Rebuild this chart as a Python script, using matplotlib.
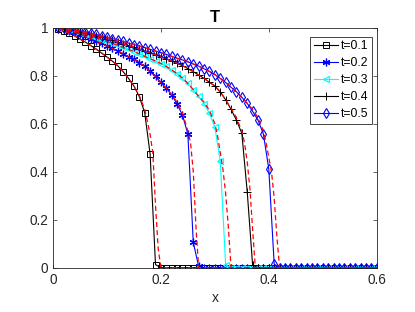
import numpy as np
import matplotlib
matplotlib.use('Agg')
import matplotlib.pyplot as plt

# grid x = 0.01 ... 0.6
x = np.linspace(0.01, 0.6, 60)
labels = ['t=0.1', 't=0.2', 't=0.3', 't=0.4', 't=0.5']

# numerical solution (zeros behind the front)
T1 = [0.996, 0.988, 0.977, 0.966, 0.953, 0.940, 0.926, 0.911, 0.895, 0.878,
      0.861, 0.842, 0.817, 0.789, 0.757, 0.713, 0.646, 0.474, 0.013] + [0.0] * 41
T2 = [0.998, 0.993, 0.988, 0.981, 0.973, 0.964, 0.955, 0.945, 0.935, 0.925,
      0.914, 0.903, 0.892, 0.880, 0.868, 0.855, 0.840, 0.818, 0.797, 0.772,
      0.748, 0.721, 0.682, 0.636, 0.557, 0.106, 0.005] + [0.0] * 33
T3 = [0.998, 0.996, 0.993, 0.986, 0.980, 0.973, 0.966, 0.959, 0.951, 0.943,
      0.935, 0.927, 0.918, 0.910, 0.901, 0.891, 0.881, 0.871, 0.861, 0.851,
      0.839, 0.824, 0.809, 0.790, 0.768, 0.742, 0.714, 0.684, 0.643, 0.585,
      0.445, 0.012] + [0.0] * 28
T4 = [0.998, 0.995, 0.992, 0.989, 0.984, 0.979, 0.973, 0.967, 0.961, 0.954,
      0.947, 0.940, 0.933, 0.926, 0.918, 0.911, 0.903, 0.895, 0.887, 0.878,
      0.870, 0.861, 0.852, 0.842, 0.830, 0.817, 0.803, 0.789, 0.773, 0.757,
      0.733, 0.700, 0.660, 0.615, 0.560, 0.317, 0.011] + [0.0] * 23
T5 = [0.999, 0.997, 0.994, 0.991, 0.988, 0.983, 0.978, 0.972, 0.967, 0.961,
      0.955, 0.949, 0.943, 0.936, 0.930, 0.924, 0.917, 0.910, 0.903, 0.896,
      0.889, 0.881, 0.873, 0.866, 0.858, 0.849, 0.840, 0.829, 0.818, 0.805,
      0.789, 0.772, 0.752, 0.733, 0.710, 0.685, 0.652, 0.615, 0.557, 0.411,
      0.015] + [0.0] * 19

# exact solution near the front (same as numerical further left)
ex1_x = [0.16, 0.17, 0.175, 0.18, 0.185, 0.19, 0.195, 0.20]
ex1_T = [0.718, 0.66, 0.61, 0.555, 0.48, 0.26, 0.08, 0.0]
ex2_x = [0.23, 0.24, 0.25, 0.255, 0.26, 0.265, 0.27]
ex2_T = [0.69, 0.645, 0.57, 0.52, 0.40, 0.17, 0.0]
ex3_x = [0.28, 0.29, 0.30, 0.305, 0.31, 0.315, 0.32, 0.325, 0.33]
ex3_T = [0.69, 0.655, 0.60, 0.55, 0.48, 0.41, 0.31, 0.17, 0.0]
ex4_x = [0.33, 0.34, 0.35, 0.355, 0.36, 0.365, 0.37, 0.375]
ex4_T = [0.665, 0.625, 0.57, 0.52, 0.44, 0.33, 0.16, 0.0]
ex5_x = [0.37, 0.38, 0.39, 0.395, 0.40, 0.405, 0.41, 0.415, 0.42]
ex5_T = [0.66, 0.625, 0.57, 0.52, 0.46, 0.40, 0.29, 0.13, 0.0]

plt.rcParams['font.family'] = ['Liberation Sans', 'DejaVu Sans']

fig = plt.figure(figsize=(4.15, 3.12), dpi=100)
ax = fig.add_axes([0.1277, 0.142, 0.78, 0.769])

styles = [
    dict(color='k', marker='s', ms=4, mfc='none', mew=0.7),
    dict(color='b', marker=(6, 2, 0), ms=5.5, mew=0.9),
    dict(color='#00ffff', marker='<', ms=5, mfc='none', mew=0.9),
    dict(color='k', marker='+', ms=5.5, mew=0.7),
    dict(color='b', marker='d', ms=5, mfc='none', mew=0.8),
]
num = [T1, T2, T3, T4, T5]
for T, st, lab in zip(num, styles, labels):
    ax.plot(x, T, lw=0.8, label=lab, **st)

exact = [(ex1_x, ex1_T), (ex2_x, ex2_T), (ex3_x, ex3_T), (ex4_x, ex4_T), (ex5_x, ex5_T)]
for T, (fx, fT) in zip(num, exact):
    T = np.array(T)
    left = x < fx[0] - 1e-9
    right = x > fx[-1] + 1e-9
    xe = np.concatenate([x[left], fx, x[right]])
    Te = np.concatenate([T[left], fT, np.zeros(right.sum())])
    ax.plot(xe, Te, 'r--', lw=0.9, dashes=(4, 2.5))

ax.set_xlim(0, 0.6)
ax.set_ylim(0, 1)
ax.set_xticks([0, 0.2, 0.4, 0.6])
ax.set_xticklabels(['0', '0.2', '0.4', '0.6'])
ax.set_yticks([0, 0.2, 0.4, 0.6, 0.8, 1])
ax.set_yticklabels(['0', '0.2', '0.4', '0.6', '0.8', '1'])
gray = '#262626'
for sp in ax.spines.values():
    sp.set_color(gray)
    sp.set_linewidth(0.6)
ax.tick_params(direction='in', length=3, width=0.5, colors=gray, labelsize=9.8,
               top=True, right=True, pad=3.5)
ax.set_xlabel('x', fontsize=10, color=gray, labelpad=3)
ax.set_title('T', fontsize=12, fontweight='bold', pad=4)

leg = ax.legend(loc='upper right', bbox_to_anchor=(0.985, 0.9625), fontsize=8.8,
                frameon=True, fancybox=False, framealpha=1, edgecolor=gray,
                borderpad=0.3, labelspacing=0.4, handlelength=2.0,
                handletextpad=0.2, borderaxespad=0)
leg.get_frame().set_linewidth(0.6)

fig.savefig('out.png', dpi=100)
